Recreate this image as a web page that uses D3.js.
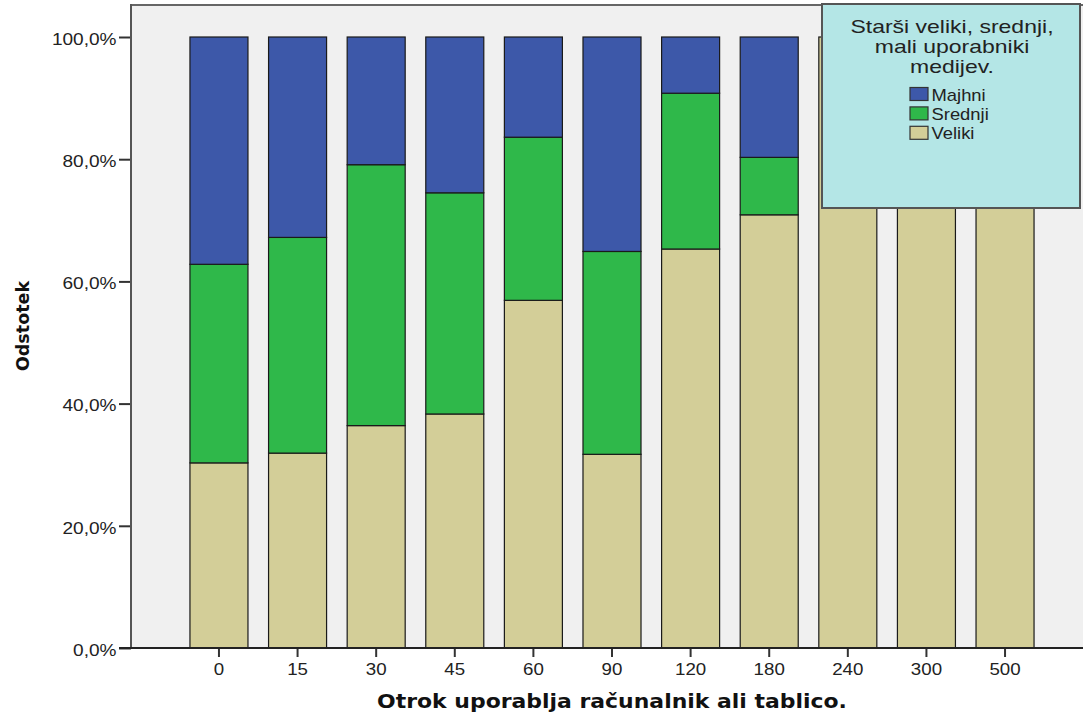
<!DOCTYPE html>
<html><head><meta charset="utf-8">
<script src="https://cdn.jsdelivr.net/npm/d3@7"></script>
<style>body{margin:0;background:#fff}svg{display:block}</style>
</head><body>
<svg id="c" width="1083" height="716"></svg>
<script>
const categories = ["0","15","30","45","60","90","120","180","240","300","500"];
const seriesNames = ["Veliki","Srednji","Majhni"];
const veliki  = [30.3, 31.9, 36.4, 38.3, 56.9, 31.7, 65.3, 70.9, 100, 100, 100];
const srednji = [32.5, 35.3, 42.7, 36.2, 26.7, 33.2, 25.5, 9.4, 0, 0, 0];
const majhni  = [37.2, 32.8, 20.9, 25.5, 16.4, 35.1, 9.2, 19.7, 0, 0, 0];
const yTicks = [0, 20, 40, 60, 80, 100];
const legendTitle = ["Starši veliki, srednji,", "mali uporabniki", "medijev."];
const legendOrder = ["Majhni","Srednji","Veliki"];

const colors = {Veliki:"#d3ce98", Srednji:"#2fb84a", Majhni:"#3d58a9"};
const SANS = "Liberation Sans, Arial, sans-serif";
const BOLD = "DejaVu Sans, Verdana, sans-serif";
const svg = d3.select("#c");
const plot = {l:131, t:5, r:1093, b:648};

svg.append("rect").attr("x",plot.l).attr("y",plot.t).attr("width",plot.r-plot.l).attr("height",plot.b-plot.t).attr("fill","#f0f0f0");

const x = d3.scaleBand().domain(categories).range([plot.l, plot.r]).paddingInner(0.262).paddingOuter(0.75);
const y = d3.scaleLinear().domain([0,100]).range([plot.b, 37]);

const rows = categories.map((c,i)=>({cat:c, Veliki:veliki[i], Srednji:srednji[i], Majhni:majhni[i]}));
const stack = d3.stack().keys(seriesNames)(rows);

svg.append("g").selectAll("g").data(stack).join("g")
  .attr("fill", d=>colors[d.key])
  .selectAll("rect").data(d=>d.filter(p=>p[1]-p[0]>0)).join("rect")
  .attr("x", d=>x(d.data.cat)).attr("width", x.bandwidth())
  .attr("y", d=>y(d[1])).attr("height", d=>y(d[0])-y(d[1]))
  .attr("stroke","#1a1a1a").attr("stroke-width",1.2);

// frame top line
svg.append("line").attr("x1",plot.l).attr("x2",plot.r).attr("y1",plot.t).attr("y2",plot.t).attr("stroke","#666").attr("stroke-width",2);

// Y axis
const yAxis = d3.axisLeft(y).tickValues(yTicks).tickSize(12).tickFormat(d=>d3.format(".1f")(d).replace(".",",")+"%");
const gy = svg.append("g").attr("transform",`translate(${plot.l},0)`).call(yAxis);
gy.select(".domain").remove();
gy.selectAll(".tick line").attr("stroke","#333").attr("stroke-width",2);
gy.selectAll(".tick text").attr("font-family",SANS).attr("font-size",16).attr("fill","#222")
  .attr("x",0).attr("dy","0.46em").attr("transform","translate(-14.5,0) scale(1.19,1)");
svg.append("line").attr("x1",plot.l).attr("x2",plot.l).attr("y1",plot.t-1).attr("y2",plot.b+1).attr("stroke","#555").attr("stroke-width",2);

// X axis
const xAxis = d3.axisBottom(x).tickSize(9).tickSizeOuter(0);
const gx = svg.append("g").attr("transform",`translate(0,${plot.b})`).call(xAxis);
gx.select(".domain").remove();
gx.selectAll(".tick line").attr("stroke","#333").attr("stroke-width",2);
gx.selectAll(".tick text").attr("font-family",SANS).attr("font-size",16).attr("fill","#222")
  .attr("y",0).attr("dy",0).attr("transform","translate(0,27) scale(1.17,1)");
svg.append("line").attr("x1",plot.l-12).attr("x2",plot.r).attr("y1",plot.b).attr("y2",plot.b).attr("stroke","#222").attr("stroke-width",2);

// Axis titles
svg.append("g").attr("transform","translate(612,708)").append("text").attr("text-anchor","middle")
  .attr("transform","scale(1.155,1)")
  .attr("font-family",BOLD).attr("font-weight","bold").attr("font-size",19).attr("fill","#111")
  .text("Otrok uporablja računalnik ali tablico.");
svg.append("text").attr("transform","translate(29,326) rotate(-90)").attr("text-anchor","middle")
  .attr("font-family",BOLD).attr("font-weight","bold").attr("font-size",17.5).attr("fill","#111")
  .text("Odstotek");

// Legend
const lg = svg.append("g");
lg.append("rect").attr("x",822).attr("y",4).attr("width",258).attr("height",204).attr("fill","#b4e6e6").attr("stroke","#555").attr("stroke-width",2);
lg.selectAll("g.t").data(legendTitle).join("g").attr("class","t")
  .attr("transform",(d,i)=>`translate(952,${33+i*20})`)
  .append("text").attr("text-anchor","middle").attr("transform","scale(1.21,1)")
  .attr("font-family",SANS).attr("font-size",19).attr("fill","#222").text(d=>d);
const items = lg.selectAll("g.i").data(legendOrder).join("g").attr("class","i")
  .attr("transform",(d,i)=>`translate(910,${87.5+i*19.4})`);
items.append("rect").attr("width",18).attr("height",13).attr("fill",d=>colors[d]).attr("stroke","#333").attr("stroke-width",1.2);
items.append("text").attr("transform","translate(21.5,13) scale(1.15,1)").attr("font-family",SANS).attr("font-size",16).attr("fill","#222").text(d=>d);
</script>
</body></html>
